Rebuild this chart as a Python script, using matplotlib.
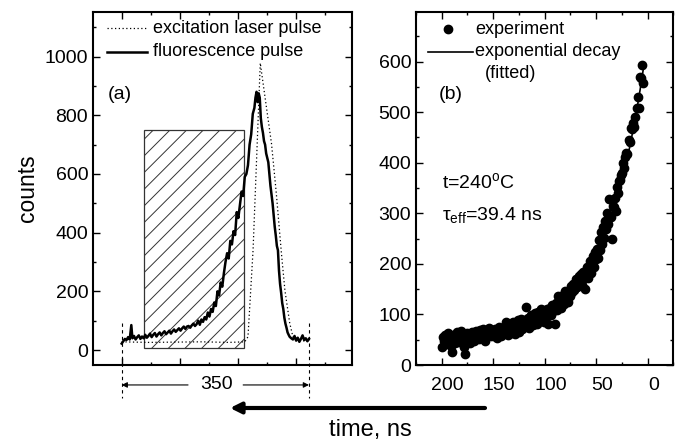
import numpy as np
import matplotlib
matplotlib.use('Agg')
import matplotlib.pyplot as plt
from matplotlib.patches import Rectangle, FancyArrowPatch
from matplotlib.ticker import FixedLocator, MultipleLocator
import matplotlib.transforms as mtransforms

plt.rcParams['font.family'] = ['Liberation Sans', 'DejaVu Sans']
plt.rcParams['mathtext.fontset'] = 'custom'
plt.rcParams['mathtext.rm'] = 'Liberation Sans'
plt.rcParams['mathtext.it'] = 'Liberation Sans:italic'
plt.rcParams['mathtext.bf'] = 'Liberation Sans:bold'
plt.rcParams['hatch.linewidth'] = 0.7

# ---------------- data: panel (a) ----------------
fluorescence = [(0, 22), (3, 30), (6, 38), (9, 34), (12, 44), (15, 36), (18, 85), (20, 40), (23, 48),
                (26, 36), (29, 44), (32, 50), (35, 38), (38, 46), (41, 40), (44, 52), (47, 42), (50, 48),
                (53, 56), (56, 44), (59, 52), (62, 58), (65, 46), (68, 54), (71, 60), (74, 50), (77, 58),
                (80, 64), (83, 54), (86, 60), (89, 66), (92, 56), (95, 64), (98, 70), (101, 62), (104, 68),
                (107, 74), (110, 66), (113, 74), (116, 80), (119, 72), (122, 80), (125, 82), (128, 76),
                (131, 84), (134, 90), (137, 82), (140, 88), (143, 100), (146, 86), (149, 104), (152, 96),
                (155, 112), (158, 104), (161, 128), (164, 114), (167, 140), (170, 130), (173, 162),
                (176, 150), (179, 200), (182, 186), (185, 230), (188, 216), (191, 262), (194, 300),
                (197, 330), (200, 312), (203, 372), (206, 360), (209, 405), (212, 392), (215, 470),
                (218, 450), (221, 495), (224, 540), (227, 525), (230, 590), (233, 600), (236, 630),
                (239, 700), (242, 735), (245, 805), (248, 825), (250, 860), (252, 880), (254, 845),
                (256, 875), (258, 860), (260, 790), (262, 760), (264, 740), (266, 712), (268, 700),
                (270, 670), (272, 655), (274, 640), (276, 600), (278, 560), (280, 530), (282, 500),
                (284, 460), (286, 420), (288, 390), (290, 355), (292, 340), (294, 270), (296, 225),
                (298, 195), (300, 160), (302, 140), (304, 110), (306, 90), (308, 76), (310, 60),
                (312, 52), (314, 45), (317, 40), (320, 36), (323, 48), (326, 32), (329, 42), (332, 28),
                (335, 38), (338, 50), (341, 34), (344, 40), (347, 30), (350, 38)]
fluor_t, fluor_c = zip(*fluorescence)

laser_t = [0, 50, 100, 150, 200, 230, 236, 245.5, 252, 259, 267, 280, 289, 298.5, 305, 314, 320, 335, 350]
laser_c = [28, 26, 27, 28, 26, 28, 45, 340, 645, 978, 873, 703, 533, 330, 204, 92, 45, 32, 30]

gate_t = [42, 229]          # hatched window (ns)
gate_c = [6, 751]           # hatched window (counts)
span_t = [0, 350]           # marked time span
span_label = '350'

# ---------------- data: panel (b) ----------------
exp_t = [200, 199, 198, 197, 196, 195, 194, 193, 192, 191, 190, 189, 188, 187, 186, 185, 184, 183, 182, 181,
         180, 179, 178, 177, 176, 175, 174, 173, 172, 171, 170, 169, 168, 167, 166, 165, 164, 163, 162, 161,
         160, 159, 158, 157, 156, 155, 154, 153, 152, 151, 150,
         149, 148, 147, 146, 145, 144, 143, 142, 141, 140, 139, 138, 137, 136, 135, 134, 133, 132, 131, 130,
         129, 128, 127, 126, 125, 124, 123, 122, 121, 120, 119, 118, 117, 116, 115, 114, 113, 112, 111, 110,
         109, 108, 107, 106, 105, 104, 103, 102, 101, 100,
         99, 98, 97, 96, 95, 94, 93, 92, 91, 90, 89, 88, 87, 86, 85, 84, 83, 82, 81, 80,
         79, 78, 77, 76, 75, 74, 73, 72, 71, 70, 69, 68, 67, 66, 65, 64, 63, 62, 61, 60,
         59, 58, 57, 56, 55, 54, 53, 52, 51, 50,
         49, 48, 47, 46, 45, 44, 43, 42, 41, 40, 39, 38, 37, 36, 35, 34, 33, 32, 31, 30,
         29, 28, 27, 26, 25, 24, 23, 22, 21, 20, 18, 17, 16, 15, 14, 13, 12, 10, 9, 8, 7, 6.5, 5, 4]
exp_c = [36, 55, 48, 60, 42, 52, 64, 57, 47, 38, 25, 60, 50, 44, 57, 66, 52, 45, 58, 68,
         54, 46, 36, 22, 56, 64, 50, 44, 58, 66, 54, 47, 60, 68, 56, 62, 51, 70, 58, 64,
         72, 57, 47, 61, 68, 60, 74, 65, 57, 70, 64,
         58, 71, 62, 53, 68, 75, 63, 57, 72, 65, 78, 86, 66, 59, 72, 80, 64, 76, 86, 70,
         62, 80, 73, 88, 66, 79, 90, 71, 83, 75, 89, 115, 79, 92, 73, 85, 98, 86, 80, 94,
         103, 89, 82, 104, 96, 110, 90, 100, 85, 106,
         96, 110, 82, 102, 112, 98, 118, 106, 112, 82, 122, 108, 136, 116, 128, 112, 124, 138, 120, 146,
         130, 138, 124, 146, 136, 156, 144, 160, 148, 170, 154, 162, 176, 164, 180, 158, 184, 172, 150, 182,
         194, 172, 190, 206, 182, 200, 216, 194, 224, 210,
         230, 212, 248, 228, 262, 240, 272, 252, 284, 268, 300, 278, 328, 293, 250, 314, 312, 330, 305, 352,
         340, 364, 366, 376, 380, 399, 389, 412, 420, 418, 445, 440, 468, 466, 478, 470, 490, 508, 530, 508,
         570, 567, 593, 557]

fit_tau = 39.4      # ns
fit_amp = 600
fit_base = 45
fit_range = [4, 200]

left_yticks = [0, 200, 400, 600, 800, 1000]
right_yticks = [0, 100, 200, 300, 400, 500, 600]
right_xticks = [200, 150, 100, 50, 0]

# ---------------- figure ----------------
W, H = 683, 441
fig = plt.figure(figsize=(W / 100, H / 100), dpi=100)


def box(x0, y0, x1, y1):
    return [x0 / W, 1 - y1 / H, (x1 - x0) / W, (y1 - y0) / H]


ax1 = fig.add_axes(box(93, 12, 352, 365))
ax2 = fig.add_axes(box(416, 12, 673.3, 365))

for ax in (ax1, ax2):
    for s in ax.spines.values():
        s.set_linewidth(1.5)
    ax.tick_params(which='both', direction='in', top=True, right=True, width=1.0, labelsize=14, pad=3.5)
    ax.tick_params(which='major', length=5)
    ax.tick_params(which='minor', length=2.5)

# ---- panel (a)
ax1.set_xlim(-53.6, 430.4)
ax1.set_ylim(-51, 1152)
ax1.xaxis.set_major_locator(FixedLocator([0, 108.4, 216.8, 325.2]))
ax1.xaxis.set_minor_locator(FixedLocator([54.2, 162.6, 271.0, 379.4]))
ax1.yaxis.set_major_locator(FixedLocator(left_yticks))
ax1.yaxis.set_minor_locator(MultipleLocator(100))
ax1.tick_params(labelbottom=False)

ax1.add_patch(Rectangle((gate_t[0], gate_c[0]), gate_t[1] - gate_t[0], gate_c[1] - gate_c[0],
                        facecolor='white', edgecolor='#333333', lw=0.9, hatch='//', zorder=1))
ax1.plot(laser_t, laser_c, color='black', lw=0.9, ls=(0, (1, 2)), zorder=2)
ax1.plot(fluor_t, fluor_c, color='black', lw=1.8, zorder=3)

# legend (a)
ax1.plot([0.053, 0.207], [0.954, 0.954], transform=ax1.transAxes, color='black', lw=0.9, ls=(0, (1, 2)))
ax1.text(0.233, 0.954, 'excitation laser pulse', transform=ax1.transAxes, fontsize=13, va='center')
ax1.plot([0.053, 0.207], [0.888, 0.888], transform=ax1.transAxes, color='black', lw=1.8)
ax1.text(0.233, 0.888, 'fluorescence pulse', transform=ax1.transAxes, fontsize=13, va='center')
ax1.text(0.058, 0.765, '(a)', transform=ax1.transAxes, fontsize=14, va='center')

ax1.set_ylabel('counts', fontsize=16.5)
ax1.yaxis.set_label_coords(-0.21, 0.5)

# span marker below panel (a)
for t in span_t:
    ax1.plot([t, t], [92, -164], color='black', lw=0.8, ls=(0, (3, 3)), clip_on=False)
arrow_y = -119
ax1.annotate('', xy=(span_t[0], arrow_y), xytext=(124, arrow_y), xycoords='data',
             arrowprops=dict(arrowstyle='-|>', lw=0.8, color='black', mutation_scale=8,
                             shrinkA=0, shrinkB=0), annotation_clip=False)
ax1.annotate('', xy=(span_t[1], arrow_y), xytext=(227, arrow_y), xycoords='data',
             arrowprops=dict(arrowstyle='-|>', lw=0.8, color='black', mutation_scale=8,
                             shrinkA=0, shrinkB=0), annotation_clip=False)
ax1.text(177, arrow_y, span_label, fontsize=14, ha='center', va='center', clip_on=False)

# ---- panel (b)
ax2.set_xlim(225, -25)
ax2.set_ylim(0, 698)
ax2.xaxis.set_major_locator(FixedLocator(right_xticks))
ax2.xaxis.set_minor_locator(MultipleLocator(25))
ax2.yaxis.set_major_locator(FixedLocator(right_yticks))
ax2.yaxis.set_minor_locator(MultipleLocator(50))
ax2.tick_params(axis='x', which='major', pad=9)
offset = mtransforms.ScaledTranslation(6 / 100, 0, fig.dpi_scale_trans)
for lab in ax2.get_xticklabels():
    lab.set_transform(lab.get_transform() + offset)

t_fit = np.linspace(fit_range[0], fit_range[1], 300)
c_fit = fit_amp * np.exp(-t_fit / fit_tau) + fit_base
ax2.plot(t_fit, c_fit, color='black', lw=1.2, zorder=2)
ax2.plot(exp_t, exp_c, 'o', color='black', ms=6, zorder=3)

# legend (b)
ax2.plot([0.1255], [0.951], 'o', color='black', ms=6, transform=ax2.transAxes)
ax2.text(0.229, 0.951, 'experiment', transform=ax2.transAxes, fontsize=13, va='center')
ax2.plot([0.047, 0.222], [0.888, 0.888], transform=ax2.transAxes, color='black', lw=1.2)
ax2.text(0.229, 0.888, 'exponential decay', transform=ax2.transAxes, fontsize=13, va='center')
ax2.text(0.268, 0.826, '(fitted)', transform=ax2.transAxes, fontsize=13, va='center')
ax2.text(0.087, 0.765, '(b)', transform=ax2.transAxes, fontsize=14, va='center')
ax2.text(0.1, 0.519, r't=240$^{\mathrm{o}}$C', transform=ax2.transAxes, fontsize=14, va='center')
ax2.text(0.1, 0.425, r'τ$_{\mathrm{eff}}$=39.4 ns', transform=ax2.transAxes, fontsize=14, va='center')

# big time arrow and common label
fig.add_artist(FancyArrowPatch((485 / W, 1 - 408 / H), (230 / W, 1 - 408 / H),
                               transform=fig.transFigure, arrowstyle='-|>', lw=3,
                               mutation_scale=16, color='black', shrinkA=0, shrinkB=0))
fig.text(370.7 / W, 1 - 430 / H, 'time, ns', fontsize=17, ha='center', va='center')

fig.savefig('out.png', dpi=100)
